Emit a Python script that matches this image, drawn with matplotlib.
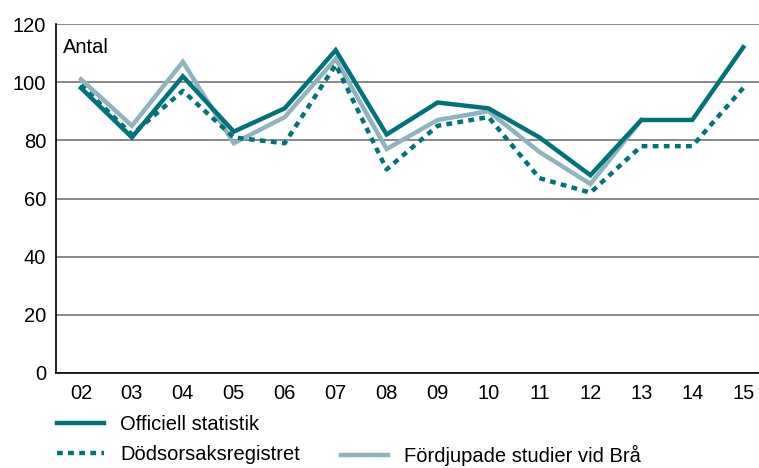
import matplotlib.pyplot as plt
from matplotlib.lines import Line2D

plt.rcParams['font.family'] = ['Liberation Sans', 'DejaVu Sans']

years = ['02', '03', '04', '05', '06', '07', '08', '09', '10', '11', '12', '13', '14', '15']
officiell = [98, 81, 102, 83, 91, 111, 82, 93, 91, 81, 68, 87, 87, 112]
dodsorsak = [99, 82, 97, 81, 79, 106, 70, 85, 88, 67, 62, 78, 78, 98]
fordjupade = [101, 85, 107, 79, 88, 108, 77, 87, 90, 76, 65, 87]

dark = '#00737a'
light = '#8fb4bd'
fs = 14.5

fig = plt.figure(figsize=(7.59, 4.68), dpi=100)
ax = fig.add_axes([56 / 759, 95 / 468, 703 / 759, 349 / 468])

x = list(range(len(years)))
ax.plot(x[:len(fordjupade)], fordjupade, color=light, lw=3.2, solid_joinstyle='miter',
        label='Fördjupade studier vid Brå', zorder=2)
ax.plot(x, dodsorsak, color=dark, lw=3.2, linestyle=(0, (1.3, 1.2)),
        label='Dödsorsaksregistret', zorder=3)
ax.plot(x, officiell, color=dark, lw=3.2, solid_joinstyle='miter',
        label='Officiell statistik', zorder=4)

ax.set_xlim(-0.49, 13.31)
ax.set_ylim(0, 120)
ax.set_yticks(range(0, 121, 20))
ax.set_xticks(x)
ax.set_xticklabels(years)
ax.grid(axis='y', color='#7f7f7f', lw=1.3)
ax.set_axisbelow(True)
for s in ['top', 'right']:
    ax.spines[s].set_visible(False)
for s in ['left', 'bottom']:
    ax.spines[s].set_color('black')
    ax.spines[s].set_linewidth(1.2)
ax.tick_params(length=0, labelsize=fs)
ax.tick_params(axis='y', pad=7)
ax.tick_params(axis='x', pad=8)

ax.text(0.01, 0.96, 'Antal', transform=ax.transAxes, fontsize=fs, va='top', ha='left')

h = {l.get_label(): l for l in ax.get_lines()}
blank = Line2D([], [], alpha=0)
handles = [h['Officiell statistik'], h['Dödsorsaksregistret'], blank, h['Fördjupade studier vid Brå']]
labels = ['Officiell statistik', 'Dödsorsaksregistret', '', 'Fördjupade studier vid Brå']
fig.legend(handles, labels, ncol=2, loc='lower left', bbox_to_anchor=(57 / 759, 0.004),
           frameon=False, fontsize=fs, handlelength=2.35, handletextpad=0.8,
           columnspacing=2.0, labelspacing=0.55, borderpad=0, borderaxespad=0)

fig.savefig('out.png', dpi=100)
